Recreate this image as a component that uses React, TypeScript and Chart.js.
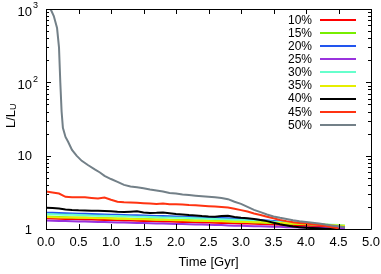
import React, { useEffect, useRef } from 'react';
import { Chart, registerables } from 'chart.js';
Chart.register(...registerables);

const seriesLabels = ['10%', '15%', '20%', '25%', '30%', '35%', '40%', '45%', '50%'];
const seriesColors = ['#ff0000', '#77ee00', '#2255ee', '#9933dd', '#66ffcc', '#e6ee00', '#000000', '#ff3311', '#738088'];

const time = [0, 0.1, 0.2, 0.3, 0.4, 0.5, 0.6, 0.7, 0.8, 0.9, 1.0, 1.1, 1.2, 1.3, 1.4, 1.5, 1.6, 1.7, 1.8, 1.9, 2.0, 2.1, 2.2, 2.3, 2.4, 2.5, 2.6, 2.7, 2.8, 2.9, 3.0, 3.1, 3.2, 3.3, 3.4, 3.5, 3.6, 3.7, 3.8, 3.9, 4.0, 4.1, 4.2, 4.3, 4.4, 4.5, 4.6];

const l10 = [1.40, 1.39, 1.38, 1.37, 1.37, 1.36, 1.35, 1.35, 1.34, 1.33, 1.33, 1.32, 1.31, 1.31, 1.30, 1.29, 1.29, 1.28, 1.27, 1.27, 1.26, 1.25, 1.25, 1.24, 1.23, 1.23, 1.22, 1.21, 1.21, 1.20, 1.19, 1.19, 1.18, 1.17, 1.16, 1.15, 1.14, 1.13, 1.12, 1.11, 1.10, 1.09, 1.08, 1.07, 1.06, 1.05, 1.04];
const l15 = [1.48, 1.47, 1.46, 1.45, 1.44, 1.44, 1.43, 1.42, 1.41, 1.41, 1.40, 1.39, 1.39, 1.38, 1.37, 1.37, 1.36, 1.35, 1.35, 1.34, 1.33, 1.33, 1.32, 1.31, 1.31, 1.30, 1.29, 1.29, 1.28, 1.27, 1.26, 1.25, 1.24, 1.23, 1.22, 1.21, 1.20, 1.19, 1.18, 1.17, 1.16, 1.15, 1.14, 1.13, 1.12, 1.11, 1.10];
const l20 = [1.67, 1.66, 1.65, 1.64, 1.63, 1.62, 1.61, 1.60, 1.59, 1.58, 1.57, 1.56, 1.55, 1.54, 1.54, 1.53, 1.52, 1.51, 1.50, 1.49, 1.48, 1.47, 1.46, 1.45, 1.44, 1.43, 1.42, 1.41, 1.40, 1.39, 1.38, 1.37, 1.35, 1.33, 1.31, 1.29, 1.27, 1.25, 1.23, 1.21, 1.19, 1.17, 1.15, 1.13, 1.11, 1.09, 1.08];
const l25 = [1.31, 1.30, 1.29, 1.29, 1.28, 1.27, 1.27, 1.26, 1.25, 1.25, 1.24, 1.23, 1.23, 1.22, 1.21, 1.21, 1.20, 1.19, 1.19, 1.18, 1.17, 1.17, 1.16, 1.15, 1.15, 1.14, 1.13, 1.13, 1.12, 1.11, 1.11, 1.10, 1.09, 1.09, 1.08, 1.07, 1.07, 1.06, 1.06, 1.05, 1.05, 1.04, 1.04, 1.03, 1.03, 1.03, 1.02];
const l30 = [1.60, 1.59, 1.58, 1.57, 1.56, 1.55, 1.54, 1.53, 1.52, 1.52, 1.51, 1.50, 1.49, 1.48, 1.47, 1.47, 1.46, 1.45, 1.44, 1.43, 1.42, 1.42, 1.41, 1.40, 1.39, 1.38, 1.37, 1.36, 1.35, 1.34, 1.33, 1.32, 1.31, 1.29, 1.28, 1.26, 1.25, 1.23, 1.22, 1.20, 1.19, 1.17, 1.16, 1.15, 1.14, 1.13, 1.12];
const l35 = [1.46, 1.45, 1.44, 1.44, 1.43, 1.42, 1.42, 1.41, 1.40, 1.40, 1.39, 1.38, 1.38, 1.37, 1.36, 1.36, 1.35, 1.34, 1.34, 1.33, 1.32, 1.32, 1.31, 1.30, 1.30, 1.29, 1.28, 1.28, 1.27, 1.26, 1.26, 1.25, 1.24, 1.24, 1.23, 1.22, 1.21, 1.20, 1.19, 1.18, 1.17, 1.16, 1.15, 1.14, 1.13, 1.12, 1.11];
const l40 = [1.95, 1.93, 1.90, 1.85, 1.82, 1.80, 1.79, 1.78, 1.77, 1.76, 1.75, 1.72, 1.70, 1.72, 1.74, 1.68, 1.65, 1.66, 1.68, 1.64, 1.60, 1.58, 1.55, 1.53, 1.50, 1.48, 1.47, 1.50, 1.52, 1.46, 1.42, 1.40, 1.37, 1.33, 1.28, 1.22, 1.16, 1.12, 1.08, 1.06, 1.04, 1.03, 1.02, 1.01, 1.005, 1.0, null];
const l45 = [3.25, 3.15, 3.05, 2.75, 2.70, 2.70, 2.70, 2.65, 2.60, 2.68, 2.50, 2.36, 2.32, 2.30, 2.28, 2.25, 2.22, 2.20, 2.22, 2.18, 2.17, 2.15, 2.12, 2.10, 2.08, 2.05, 2.02, 1.99, 1.96, 1.89, 1.81, 1.73, 1.63, 1.55, 1.47, 1.40, 1.33, 1.28, 1.24, 1.21, 1.19, 1.16, 1.13, 1.10, 1.06, 1.02, null];

const time50 = [0.07, 0.12, 0.17, 0.20, 0.22, 0.24, 0.26, 0.30, 0.34, 0.40, 0.47, 0.55, 0.65, 0.75, 0.83, 0.90, 1.0, 1.1, 1.2, 1.3, 1.4, 1.5, 1.6, 1.7, 1.8, 1.9, 2.0, 2.1, 2.2, 2.3, 2.4, 2.5, 2.6, 2.7, 2.8, 2.9, 3.0, 3.1, 3.2, 3.3, 3.4, 3.5, 3.6, 3.7, 3.8, 3.9, 4.0, 4.1, 4.2, 4.3, 4.4, 4.5, 4.6];
const l50 = [1000, 800, 550, 300, 100, 40, 24, 18, 15.5, 12, 10, 8.5, 7.4, 6.5, 5.9, 5.3, 4.8, 4.4, 4.0, 3.8, 3.7, 3.6, 3.45, 3.35, 3.25, 3.1, 3.05, 2.95, 2.9, 2.85, 2.8, 2.75, 2.7, 2.65, 2.55, 2.35, 2.2, 2.0, 1.82, 1.7, 1.58, 1.48, 1.42, 1.37, 1.32, 1.28, 1.25, 1.22, 1.19, 1.15, 1.12, 1.09, 1.06];

const seriesValues = [l10, l15, l20, l25, l30, l35, l40, l45, l50];
const seriesTimes = [time, time, time, time, time, time, time, time, time50];

const xTicks = [0, 0.5, 1.0, 1.5, 2.0, 2.5, 3.0, 3.5, 4.0, 4.5, 5.0];
const yTicks = [1, 10, 100, 1000];
const yTickBase = ['1', '10', '10', '10'];
const yTickSup = ['', '', '2', '3'];
const yMinor = [2, 3, 4, 5, 6, 7, 8, 9];

const FONT = '"Liberation Sans", Arial, Helvetica, sans-serif';

const framePlugin = {
  id: 'gnuFrame',
  afterDraw(chart: any) {
    const { ctx, chartArea: a, scales } = chart;
    const xs = scales.x;
    const ys = scales.y;
    ctx.save();
    ctx.strokeStyle = '#000';
    ctx.lineWidth = 1;
    ctx.beginPath();
    ctx.rect(Math.round(a.left) + 0.5, Math.round(a.top) + 0.5, Math.round(a.right - a.left), Math.round(a.bottom - a.top));
    ctx.stroke();
    ctx.beginPath();
    for (const v of xTicks) {
      const px = Math.round(xs.getPixelForValue(v)) + 0.5;
      ctx.moveTo(px, a.bottom);
      ctx.lineTo(px, a.bottom - 5);
      ctx.moveTo(px, a.top);
      ctx.lineTo(px, a.top + 5);
    }
    for (let d = 0; d < yTicks.length; d++) {
      const py = Math.round(ys.getPixelForValue(yTicks[d])) + 0.5;
      ctx.moveTo(a.left, py);
      ctx.lineTo(a.left + 5, py);
      ctx.moveTo(a.right, py);
      ctx.lineTo(a.right - 5, py);
      if (d < yTicks.length - 1) {
        for (const m of yMinor) {
          const pm = Math.round(ys.getPixelForValue(yTicks[d] * m)) + 0.5;
          ctx.moveTo(a.left, pm);
          ctx.lineTo(a.left + 3, pm);
          ctx.moveTo(a.right, pm);
          ctx.lineTo(a.right - 3, pm);
        }
      }
    }
    ctx.stroke();
    ctx.fillStyle = '#000';
    for (let i = 0; i < yTicks.length; i++) {
      const py = ys.getPixelForValue(yTicks[i]);
      const rx = a.left - 14;
      const hasSup = yTickSup[i] !== '';
      ctx.font = '13px ' + FONT;
      ctx.textAlign = 'right';
      ctx.textBaseline = 'middle';
      ctx.fillText(yTickBase[i], rx, py + (hasSup ? 3 : 1));
      if (hasSup) {
        ctx.font = '9px ' + FONT;
        ctx.textAlign = 'left';
        ctx.fillText(yTickSup[i], rx + 1, py - 3);
      }
    }
    ctx.save();
    ctx.translate(11, (a.top + a.bottom) / 2 + 9);
    ctx.rotate(-Math.PI / 2);
    ctx.textAlign = 'left';
    ctx.textBaseline = 'middle';
    ctx.font = '13px ' + FONT;
    ctx.fillText('L/L', 0, 0);
    const w = ctx.measureText('L/L').width;
    ctx.font = '9px ' + FONT;
    ctx.fillText('U', w, 3);
    ctx.restore();
    ctx.font = '12px ' + FONT;
    ctx.textAlign = 'right';
    ctx.textBaseline = 'middle';
    chart.data.datasets.forEach((ds: any, i: number) => {
      const y = a.top + 11 + i * 13.1;
      ctx.fillStyle = '#000';
      ctx.fillText(ds.label, a.right - 59, y + 0.5);
      ctx.strokeStyle = ds.borderColor;
      ctx.lineWidth = 2;
      ctx.beginPath();
      ctx.moveTo(a.right - 51, Math.round(y));
      ctx.lineTo(a.right - 15, Math.round(y));
      ctx.stroke();
    });
    ctx.restore();
  },
};

export default function App() {
  const ref = useRef<HTMLCanvasElement | null>(null);
  useEffect(() => {
    document.body.style.margin = '0';
    const canvas = ref.current;
    if (!canvas) return;
    const datasets = seriesLabels.map((label, i) => ({
      label,
      data: seriesTimes[i].map((t, j) => ({ x: t, y: seriesValues[i][j] })),
      borderColor: seriesColors[i],
      backgroundColor: seriesColors[i],
      borderWidth: 2,
      pointRadius: 0,
      tension: 0,
      fill: false,
      spanGaps: false,
      order: seriesLabels.length - i,
    }));
    const chart = new Chart(canvas, {
      type: 'line',
      data: { datasets },
      options: {
        animation: false,
        responsive: false,
        devicePixelRatio: 1,
        layout: { padding: { left: 0, top: 9, right: 10, bottom: 0 } },
        plugins: { legend: { display: false }, tooltip: { enabled: false } },
        events: [],
        scales: {
          x: {
            type: 'linear',
            min: 0,
            max: 5,
            grid: { display: false, drawTicks: false },
            border: { display: false },
            afterBuildTicks: (s: any) => { s.ticks = xTicks.map((v) => ({ value: v })); },
            afterFit: (s: any) => { s.height = 45; s.paddingLeft = 0; s.paddingRight = 0; },
            ticks: {
              color: '#000',
              padding: 6,
              maxRotation: 0,
              font: { family: FONT, size: 13 },
              callback: (v: any) => Number(v).toFixed(1),
            },
            title: {
              display: true,
              text: 'Time [Gyr]',
              color: '#000',
              font: { family: FONT, size: 13 },
              padding: { top: 4, bottom: 4 },
            },
          },
          y: {
            type: 'logarithmic',
            min: 1,
            max: 1000,
            grid: { display: false, drawTicks: false },
            border: { display: false },
            ticks: { display: false },
            afterFit: (s: any) => { s.width = 46; s.paddingTop = 0; s.paddingBottom = 0; },
          },
        },
      },
      plugins: [framePlugin],
    } as any);
    return () => chart.destroy();
  }, []);
  return (
    <div style={{ position: 'absolute', left: 0, top: 0, width: 381, height: 274 }}>
      <canvas ref={ref} width={381} height={274} style={{ width: 381, height: 274 }} />
    </div>
  );
}
